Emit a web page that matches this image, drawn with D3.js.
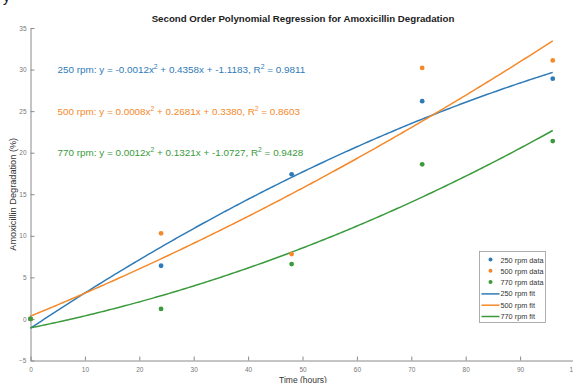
<!DOCTYPE html>
<html>
<head>
<meta charset="utf-8">
<script src="https://cdn.jsdelivr.net/npm/d3@7"></script>
<style>
  html, body { margin: 0; padding: 0; background: #fff; }
  svg { display: block; font-family: "Liberation Sans", Arial, sans-serif; }
</style>
</head>
<body>
<svg id="chart" width="573" height="383"></svg>
<script>
// Sampling times (hours)
const times = [0, 24, 48, 72, 96];

// Measured degradation (%) per stirring speed
const series = ["250 rpm", "500 rpm", "770 rpm"];
const deg250 = [0, 6.4, 17.4, 26.2, 28.9];
const deg500 = [0, 10.3, 7.8, 30.2, 31.1];
const deg770 = [0, 1.2, 6.6, 18.6, 21.4];

// Quadratic fit coefficients [a, b, c] for y = a x^2 + b x + c, and R^2
const coef250 = [-0.0012, 0.4358, -1.1183];
const coef500 = [0.0008, 0.2681, 0.3380];
const coef770 = [0.0012, 0.1321, -1.0727];
const r2Values = [0.9811, 0.8603, 0.9428];

// Axis ticks
const xTicks = [0, 10, 20, 30, 40, 50, 60, 70, 80, 90, 100];
const yTicks = [-5, 0, 5, 10, 15, 20, 25, 30, 35];

const colors = ["#2f7bb8", "#f5892a", "#3a9a3c"];
const data = [deg250, deg500, deg770];
const coefs = [coef250, coef500, coef770];

const svg = d3.select("#chart");
const x = d3.scaleLinear().domain([0, 100]).range([30.5, 574.5]);
const y = d3.scaleLinear().domain([-5, 35]).range([360.5, 28]);

// Caption fragment above the figure
svg.append("text").attr("x", 3).attr("y", 2).attr("font-size", 14)
  .attr("fill", "#111").text("y");

// Title
svg.append("text").attr("x", 303).attr("y", 22)
  .attr("text-anchor", "middle").attr("font-size", 9.7).attr("font-weight", "bold")
  .attr("fill", "#222").text("Second Order Polynomial Regression for Amoxicillin Degradation");

// Axes (ticks point inward)
const axisColor = "#8a8a8a";
const xAxis = svg.append("g").attr("transform", `translate(0,${y(-5)})`)
  .call(d3.axisBottom(x).tickValues(xTicks).tickSizeInner(-4).tickSizeOuter(0).tickPadding(7));
const yAxis = svg.append("g").attr("transform", `translate(${x(0)},0)`)
  .call(d3.axisLeft(y).tickValues(yTicks).tickSizeInner(-4).tickSizeOuter(0).tickPadding(4));
[xAxis, yAxis].forEach(g => {
  g.select(".domain").attr("stroke", axisColor);
  g.selectAll(".tick line").attr("stroke", axisColor);
  g.selectAll(".tick text").attr("fill", "#777").attr("font-size", 6.5);
});

// Axis labels
svg.append("text").attr("x", 303).attr("y", 382.5)
  .attr("text-anchor", "middle").attr("font-size", 8.5).attr("fill", "#333")
  .text("Time (hours)");
svg.append("text")
  .attr("transform", `translate(15.5,${y(15)}) rotate(-90)`)
  .attr("text-anchor", "middle").attr("font-size", 9.2).attr("fill", "#333")
  .text("Amoxicillin Degradation (%)");

// Fitted curves
const poly = (c, t) => c[0] * t * t + c[1] * t + c[2];
const fitX = d3.range(0, 96.01, 0.5);
const line = d3.line().x(d => x(d[0])).y(d => y(d[1]));
coefs.forEach((c, i) => {
  svg.append("path")
    .attr("d", line(fitX.map(t => [t, poly(c, t)])))
    .attr("fill", "none").attr("stroke", colors[i]).attr("stroke-width", 1.5);
});

// Measured points
data.forEach((vals, i) => {
  svg.append("g").selectAll("circle").data(vals).join("circle")
    .attr("cx", (d, j) => x(times[j])).attr("cy", d => y(d))
    .attr("r", 2.4).attr("fill", colors[i]);
});

// Fit equations
const fmt = v => v.toFixed(4);
const eqY = [30, 25, 20];
coefs.forEach((c, i) => {
  const t = svg.append("text").attr("x", 57.5).attr("y", y(eqY[i]) + 3.5)
    .attr("font-size", 9.9).attr("fill", colors[i]);
  t.append("tspan").text(`${series[i]}: y = ${fmt(c[0])}x`);
  t.append("tspan").attr("dy", -4).attr("font-size", 6.8).text("2");
  t.append("tspan").attr("dy", 4).text(` + ${fmt(c[1])}x + ${fmt(c[2])}, R`);
  t.append("tspan").attr("dy", -4).attr("font-size", 6.8).text("2");
  t.append("tspan").attr("dy", 4).text(` = ${fmt(r2Values[i])}`);
});

// Legend
const lg = svg.append("g").attr("transform", "translate(479.5,251.5)");
lg.append("rect").attr("width", 66).attr("height", 71)
  .attr("fill", "#fff").attr("stroke", "#9a9a9a").attr("stroke-width", 0.8);
const entries = [];
series.forEach((s, i) => entries.push({ label: `${s} data`, kind: "dot", color: colors[i] }));
series.forEach((s, i) => entries.push({ label: `${s} fit`, kind: "line", color: colors[i] }));
entries.forEach((e, k) => {
  const cy = 8.5 + k * 11.3;
  if (e.kind === "dot") {
    lg.append("circle").attr("cx", 11).attr("cy", cy - 0.5).attr("r", 2).attr("fill", e.color);
  } else {
    lg.append("line").attr("x1", 2).attr("x2", 20).attr("y1", cy).attr("y2", cy)
      .attr("stroke", e.color).attr("stroke-width", 1.5);
  }
  lg.append("text").attr("x", 21).attr("y", cy + 2.5)
    .attr("font-size", 7.3).attr("fill", "#333").text(e.label);
});
</script>
</body>
</html>
